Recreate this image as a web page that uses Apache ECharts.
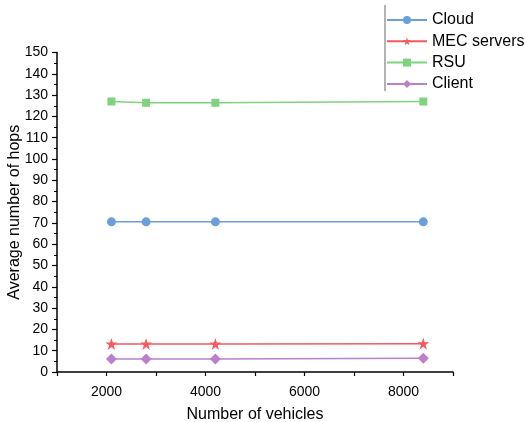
<!DOCTYPE html>
<html>
<head>
<meta charset="utf-8">
<script src="https://cdn.jsdelivr.net/npm/echarts@6/dist/echarts.min.js"></script>
<style>html,body{margin:0;padding:0;background:#fff}#c{width:525px;height:422px}</style>
</head>
<body>
<div id="c"></div>
<script>
const vehicles = [2100, 2800, 4200, 8400];
const cloud = [70.5, 70.5, 70.5, 70.5];
const mecServers = [13.2, 13.2, 13.2, 13.3];
const rsu = [127, 126.4, 126.4, 127];
const client = [6.1, 6.1, 6.1, 6.4];
const seriesNames = ['Cloud', 'MEC servers', 'RSU', 'Client'];
const xLabels = [2000, 4000, 6000, 8000];

const FONT = 'Liberation Sans, Arial, sans-serif';
const colors = ['#6A9FDB', '#F55A5E', '#7ED37E', '#BB80CC'];
const symbols = ['circle', 'path://M50,0 L61.8,35.3 L100,35.3 L69.1,57.1 L80.9,92.4 L50,70.6 L19.1,92.4 L30.9,57.1 L0,35.3 L38.2,35.3 Z', 'rect', 'diamond'];
const sizes = [9, 12, 8, 11];
const allData = [cloud, mecServers, rsu, client];

const chart = echarts.init(document.getElementById('c'));
chart.setOption({
  animation: false,
  color: colors,
  grid: {left: 57, right: 72, top: 52.5, bottom: 50, containLabel: false, outerBoundsMode: 'none'},
  legend: {
    orient: 'vertical', left: 386, top: 12, itemGap: 5.3, padding: 0,
    itemWidth: 40, itemHeight: 10,
    textStyle: {fontFamily: FONT, fontSize: 16, color: '#000'},
    data: seriesNames
  },
  graphic: [{
    type: 'line', shape: {x1: 385, y1: 5, x2: 385, y2: 91},
    style: {stroke: '#9a9a9a', lineWidth: 1.5}
  }],
  xAxis: {
    type: 'value', min: 1000, max: 9000, interval: 1000,
    name: 'Number of vehicles', nameLocation: 'middle', nameGap: 35, nameMoveOverlap: false,
    nameTextStyle: {fontFamily: FONT, fontSize: 16, color: '#000'},
    axisLine: {lineStyle: {color: '#000', width: 1.5}},
    axisTick: {length: 4, lineStyle: {color: '#000', width: 1.2}},
    axisLabel: {fontFamily: FONT, fontSize: 14, color: '#000', margin: 13,
      formatter: v => xLabels.includes(v) ? String(v) : ''},
    splitLine: {show: false}
  },
  yAxis: {
    type: 'value', min: 0, max: 150, interval: 10,
    name: 'Average number of hops', nameLocation: 'middle', nameGap: 34, nameMoveOverlap: false,
    nameTextStyle: {fontFamily: FONT, fontSize: 16, color: '#000'},
    axisLine: {show: true, lineStyle: {color: '#000', width: 1.5}},
    axisTick: {show: true, length: 5, lineStyle: {color: '#000', width: 1.2}},
    minorTick: {show: true, splitNumber: 2, length: 3, lineStyle: {color: '#000', width: 1}},
    axisLabel: {fontFamily: FONT, fontSize: 14, color: '#000', margin: 9},
    splitLine: {show: false}
  },
  series: seriesNames.map((n, i) => ({
    name: n, type: 'line',
    data: vehicles.map((x, j) => [x, allData[i][j]]),
    symbol: symbols[i], symbolSize: sizes[i], showSymbol: true,
    lineStyle: {width: 1.5, color: colors[i]},
    itemStyle: {color: colors[i]}
  }))
});
</script>
</body>
</html>
